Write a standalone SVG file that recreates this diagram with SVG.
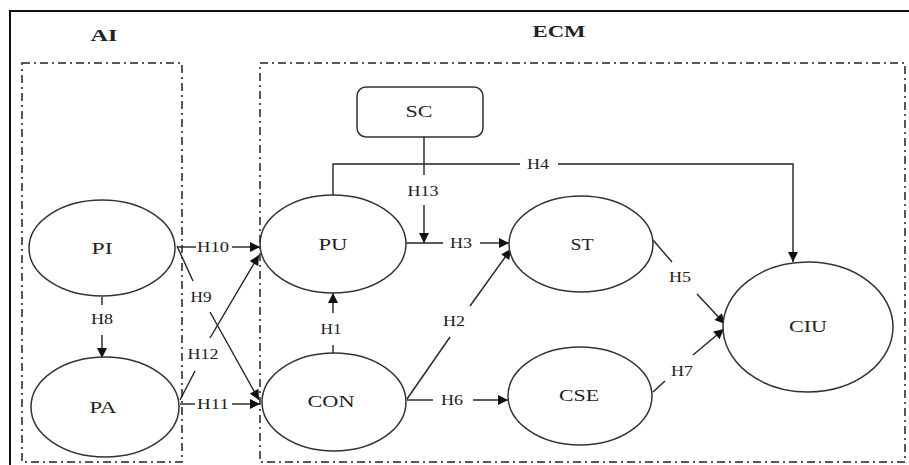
<svg xmlns="http://www.w3.org/2000/svg" width="909" height="465" viewBox="0 0 909 465">
<defs>
<marker id="ah" viewBox="0 0 10 10" refX="10" refY="5" markerWidth="11" markerHeight="10" markerUnits="userSpaceOnUse" orient="auto">
<path d="M0,0 L10,5 L0,10 z" fill="#111"/>
</marker>
</defs>
<style>
.frame{fill:none;stroke:#111;stroke-width:2}
.grp{fill:none;stroke:#222;stroke-width:1.5;stroke-dasharray:8 4 2 4}
.node{fill:#fff;stroke:#333;stroke-width:1.5}
.ln{fill:none;stroke:#222;stroke-width:1.4}
.arr{fill:none;stroke:#222;stroke-width:1.4;marker-end:url(#ah)}
text{font-family:"Liberation Serif","Times New Roman",serif;fill:#222;text-anchor:middle}
.nl{font-size:17px}
.hl{font-size:15px}
.gl{font-size:17px;font-weight:bold}
</style>
<rect class="frame" x="10" y="11" width="930" height="480"/>
<g id="group-AI">
<rect class="grp" x="22" y="63" width="160" height="399"/>
<text class="gl" x="104" y="41" textLength="27" lengthAdjust="spacingAndGlyphs">AI</text>
</g>
<g id="group-ECM">
<rect class="grp" x="260" y="63" width="645" height="399"/>
<text class="gl" x="559" y="37" textLength="53" lengthAdjust="spacingAndGlyphs">ECM</text>
</g>
<g id="connectors">
<path class="arr" d="M333,195 V164 H520 M558,164 H793 V262"/>
<text class="hl" x="538" y="169" textLength="22" lengthAdjust="spacingAndGlyphs">H4</text>
<path class="ln" d="M424,137 V175"/>
<path class="arr" d="M424,205 V243"/>
<text class="hl" x="423" y="196" textLength="31" lengthAdjust="spacingAndGlyphs">H13</text>
<path class="ln" d="M406,243 H443"/>
<path class="arr" d="M480,243 H509"/>
<text class="hl" x="461" y="248" textLength="22" lengthAdjust="spacingAndGlyphs">H3</text>
<path class="ln" d="M177,247 H196"/>
<path class="arr" d="M232,247 H260"/>
<text class="hl" x="213" y="252" textLength="32" lengthAdjust="spacingAndGlyphs">H10</text>
<path class="ln" d="M177,246 L193,281"/>
<path class="arr" d="M210,312 L259,400"/>
<text class="hl" x="201" y="302" textLength="21" lengthAdjust="spacingAndGlyphs">H9</text>
<path class="ln" d="M180,400 L195,371"/>
<path class="arr" d="M210,338 L259,255"/>
<text class="hl" x="203" y="359" textLength="31" lengthAdjust="spacingAndGlyphs">H12</text>
<path class="ln" d="M180,404 H195"/>
<path class="arr" d="M232,404 H260"/>
<text class="hl" x="213" y="409" textLength="32" lengthAdjust="spacingAndGlyphs">H11</text>
<path class="ln" d="M102,297 V305"/>
<path class="arr" d="M102,335 V358"/>
<text class="hl" x="102" y="324" textLength="22" lengthAdjust="spacingAndGlyphs">H8</text>
<path class="ln" d="M333,353 V345"/>
<path class="arr" d="M333,313 V293"/>
<text class="hl" x="331" y="334" textLength="21" lengthAdjust="spacingAndGlyphs">H1</text>
<path class="ln" d="M407,399 L450,337"/>
<path class="arr" d="M470,306 L511,249"/>
<text class="hl" x="454" y="326" textLength="22" lengthAdjust="spacingAndGlyphs">H2</text>
<path class="ln" d="M407,400 H433"/>
<path class="arr" d="M473,400 H508"/>
<text class="hl" x="452" y="405" textLength="22" lengthAdjust="spacingAndGlyphs">H6</text>
<path class="ln" d="M653,240 L672,262"/>
<path class="arr" d="M697,294 L725,324"/>
<text class="hl" x="680" y="282" textLength="22" lengthAdjust="spacingAndGlyphs">H5</text>
<path class="ln" d="M653,392 L665,381"/>
<path class="arr" d="M693,355 L724,329"/>
<text class="hl" x="682" y="376" textLength="22" lengthAdjust="spacingAndGlyphs">H7</text>
</g>
<g id="node-SC">
<rect class="node" x="357" y="87" width="126" height="50" rx="9"/>
<text class="nl" x="419" y="117" textLength="27" lengthAdjust="spacingAndGlyphs">SC</text>
</g>
<g id="node-PI">
<ellipse class="node" cx="102" cy="248" rx="73" ry="48"/>
<text class="nl" x="102" y="254" textLength="21" lengthAdjust="spacingAndGlyphs">PI</text>
</g>
<g id="node-PA">
<ellipse class="node" cx="105" cy="407" rx="74" ry="50"/>
<text class="nl" x="103" y="413" textLength="27" lengthAdjust="spacingAndGlyphs">PA</text>
</g>
<g id="node-PU">
<ellipse class="node" cx="333" cy="244" rx="73" ry="49"/>
<text class="nl" x="333" y="250" textLength="29" lengthAdjust="spacingAndGlyphs">PU</text>
</g>
<g id="node-CON">
<ellipse class="node" cx="334" cy="402" rx="72" ry="49"/>
<text class="nl" x="331" y="407" textLength="47" lengthAdjust="spacingAndGlyphs">CON</text>
</g>
<g id="node-ST">
<ellipse class="node" cx="581" cy="244" rx="72" ry="48"/>
<text class="nl" x="582" y="250" textLength="23" lengthAdjust="spacingAndGlyphs">ST</text>
</g>
<g id="node-CSE">
<ellipse class="node" cx="580" cy="396" rx="72" ry="49"/>
<text class="nl" x="579" y="401" textLength="40" lengthAdjust="spacingAndGlyphs">CSE</text>
</g>
<g id="node-CIU">
<ellipse class="node" cx="808" cy="327" rx="85" ry="65"/>
<text class="nl" x="808" y="332" textLength="38" lengthAdjust="spacingAndGlyphs">CIU</text>
</g>
</svg>
